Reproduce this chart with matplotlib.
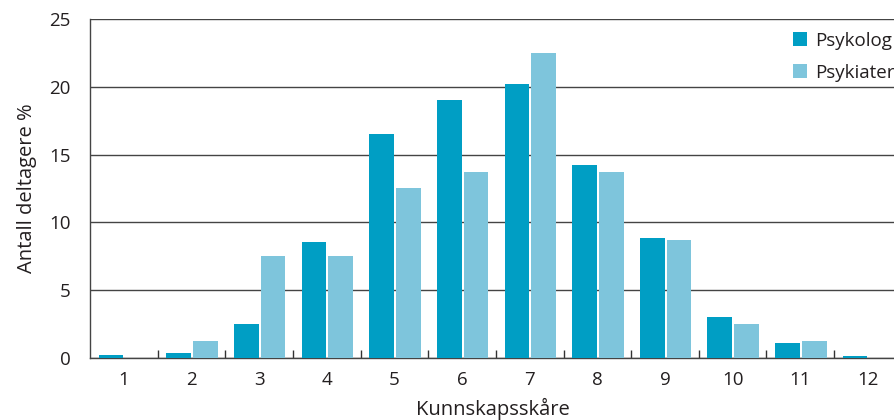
import numpy as np
import matplotlib
matplotlib.use("Agg")
import matplotlib.pyplot as plt

# Data
categories = [1, 2, 3, 4, 5, 6, 7, 8, 9, 10, 11, 12]
psykolog = [0.2, 0.4, 2.5, 8.55, 16.5, 19.0, 20.2, 14.2, 8.85, 3.05, 1.1, 0.15]
psykiater = [0.0, 1.25, 7.5, 7.5, 12.5, 13.7, 22.5, 13.7, 8.7, 2.5, 1.25, 0.0]

col_psykolog = "#009ec4"
col_psykiater = "#7ec5dc"
txt_color = "#231f20"

plt.rcParams["font.family"] = ["Open Sans", "DejaVu Sans"]

fig = plt.figure(figsize=(8.95, 4.2), dpi=100)
ax = fig.add_axes([0.1006, 0.1476, 0.8994, 0.8072])

x = np.array(categories, dtype=float)
w = 0.365
ax.bar(x - 0.19, psykolog, width=w, color=col_psykolog, label="Psykolog", zorder=3)
ax.bar(x + 0.205, psykiater, width=w, color=col_psykiater, label="Psykiater", zorder=3)

ax.set_xlim(0.5, 12.4)
ax.set_ylim(0, 25)
ax.set_yticks([0, 5, 10, 15, 20, 25])
ax.yaxis.grid(True, color="#444444", linewidth=1.0, zorder=0)
ax.set_axisbelow(True)

# category labels at centres, small ticks at boundaries
ax.set_xticks(x)
ax.set_xticklabels([str(c) for c in categories])
ax.set_xticks(np.arange(1.5, 12.5, 1.0), minor=True)
ax.tick_params(axis="x", which="major", length=0, pad=9, labelsize=13.5, colors=txt_color)
ax.tick_params(axis="x", which="minor", length=6, width=1.0, direction="in", color="#333333")
ax.tick_params(axis="y", length=0, pad=14, labelsize=13.5, colors=txt_color)

for s in ["top", "right"]:
    ax.spines[s].set_visible(False)
ax.spines["left"].set_color("#444444")
ax.spines["bottom"].set_color("#444444")
ax.spines["left"].set_linewidth(1.0)
ax.spines["bottom"].set_linewidth(1.0)

ax.set_xlabel("Kunnskapsskåre", fontsize=14.5, color=txt_color, labelpad=7)
ax.set_ylabel("Antall deltagere %", fontsize=14.5, color=txt_color, labelpad=9)

ax.legend(loc="upper right", bbox_to_anchor=(1.02, 1.012), frameon=False, fontsize=13.5,
          handlelength=0.75, handleheight=0.75, handletextpad=0.4, labelspacing=0.75,
          labelcolor=txt_color)

fig.savefig("out.png", dpi=100)
